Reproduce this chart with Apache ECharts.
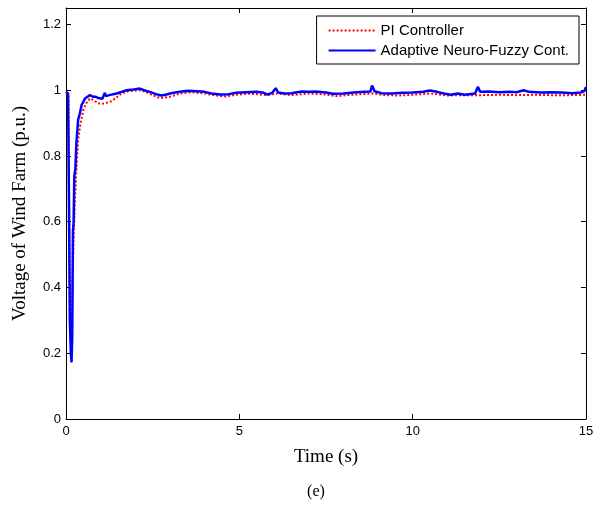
<!DOCTYPE html>
<html>
<head>
<meta charset="utf-8">
<title>Voltage of Wind Farm</title>
<script src="https://cdn.jsdelivr.net/npm/echarts@6/dist/echarts.min.js"></script>
<style>
  html, body { margin: 0; padding: 0; background: #fff; }
  #chart { width: 598px; height: 506px; }
</style>
</head>
<body>
<div id="chart"></div>
<script>
// time (s), voltage (p.u.)
var piPoints = [
  [0, 0.99], [0.07, 0.985], [0.1, 0.5], [0.12, 0.3], [0.15, 0.2], [0.17, 0.25],
  [0.19, 0.42], [0.22, 0.55], [0.26, 0.67], [0.3, 0.76], [0.35, 0.85], [0.42, 0.9],
  [0.5, 0.94], [0.58, 0.96], [0.69, 0.975], [0.8, 0.97], [0.9, 0.962], [1.0, 0.958],
  [1.12, 0.96], [1.3, 0.966], [1.42, 0.975], [1.6, 0.99], [1.8, 0.997], [2.1, 1.0],
  [2.3, 0.995], [2.5, 0.985], [2.71, 0.976], [2.85, 0.978], [3.0, 0.98], [3.3, 0.99],
  [3.6, 0.994], [4.0, 0.99], [4.3, 0.984], [4.6, 0.981], [4.9, 0.986], [5.3, 0.99],
  [5.8, 0.985], [6.1, 0.99], [6.5, 0.985], [7.0, 0.99], [7.5, 0.987], [7.8, 0.982],
  [8.1, 0.985], [8.5, 0.988], [8.85, 0.99], [9.2, 0.985], [9.6, 0.984], [10.0, 0.986],
  [10.5, 0.99], [11.0, 0.984], [11.5, 0.985], [12.0, 0.985], [12.5, 0.986], [13.0, 0.985],
  [13.5, 0.986], [14.0, 0.985], [14.5, 0.985], [15, 0.986]
];

var anfcPoints = [
  [0, 0.995], [0.06, 0.99], [0.09, 0.6], [0.11, 0.3], [0.14, 0.2], [0.16, 0.172],
  [0.18, 0.25], [0.2, 0.57], [0.22, 0.6], [0.24, 0.74], [0.27, 0.76], [0.3, 0.84],
  [0.35, 0.91], [0.4, 0.93], [0.45, 0.955], [0.5, 0.965], [0.55, 0.975], [0.62, 0.98],
  [0.69, 0.985], [0.74, 0.982], [0.79, 0.98], [0.86, 0.98], [0.93, 0.976], [1.05, 0.974],
  [1.1, 0.976], [1.12, 0.992], [1.15, 0.982], [1.25, 0.985], [1.46, 0.99], [1.6, 0.995],
  [1.75, 1.0], [1.95, 1.002], [2.13, 1.005], [2.25, 1.0], [2.42, 0.995], [2.6, 0.988],
  [2.75, 0.984], [2.9, 0.987], [3.0, 0.99], [3.15, 0.993], [3.29, 0.995], [3.5, 0.998],
  [3.8, 0.997], [4.0, 0.995], [4.2, 0.99], [4.45, 0.987], [4.7, 0.988], [4.9, 0.992],
  [5.2, 0.994], [5.5, 0.995], [5.7, 0.992], [5.8, 0.987], [5.95, 0.992], [6.05, 1.006],
  [6.12, 0.993], [6.3, 0.99], [6.5, 0.991], [6.8, 0.996], [7.0, 0.995], [7.2, 0.996],
  [7.5, 0.993], [7.7, 0.989], [8.0, 0.99], [8.3, 0.993], [8.6, 0.995], [8.78, 0.996],
  [8.83, 1.014], [8.9, 0.997], [9.1, 0.991], [9.4, 0.99], [9.7, 0.992], [10.0, 0.993],
  [10.3, 0.995], [10.5, 0.999], [10.7, 0.995], [10.9, 0.99], [11.1, 0.986], [11.3, 0.99],
  [11.5, 0.986], [11.8, 0.99], [11.88, 1.01], [11.95, 0.995], [12.2, 0.996], [12.5, 0.994],
  [12.8, 0.995], [13.0, 0.994], [13.2, 1.0], [13.35, 0.995], [13.7, 0.993], [14.0, 0.994],
  [14.3, 0.993], [14.6, 0.991], [14.85, 0.993], [14.95, 0.997], [15, 1.01]
];

var seriesNames = ['PI Controller', 'Adaptive Neuro-Fuzzy Cont.'];
var xTicks = { min: 0, max: 15, interval: 5 };
var yTicks = { min: 0, max: 1.25, interval: 0.2 };

(function(){
  'use strict';

  var sans = 'Liberation Sans, Arial, sans-serif';
  var serif = 'Liberation Serif, Times New Roman, serif';

  // matlab-ish box: ticks inside, mirrored on top / right
  function xAxis(pos, withLabels) {
    return {
      type: 'value', position: pos,
      min: xTicks.min, max: xTicks.max, interval: xTicks.interval,
      name: withLabels ? 'Time (s)' : '',
      nameLocation: 'middle', nameGap: 29,
      nameTextStyle: { fontFamily: serif, fontSize: 19, color: '#000' },
      axisLine: { show: true, onZero: false, lineStyle: { color: '#000', width: 1 } },
      axisTick: { show: true, inside: true, length: 5, lineStyle: { color: '#000' } },
      axisLabel: { show: withLabels, color: '#000', fontFamily: sans, fontSize: 13, margin: 6 },
      splitLine: { show: false }
    };
  }

  function yAxis(pos, withLabels) {
    return {
      type: 'value', position: pos,
      min: yTicks.min, max: yTicks.max, interval: yTicks.interval,
      name: withLabels ? 'Voltage of Wind Farm (p.u.)' : '',
      nameLocation: 'middle', nameGap: 36,
      nameTextStyle: { fontFamily: serif, fontSize: 19, color: '#000' },
      axisLine: { show: true, onZero: false, lineStyle: { color: '#000', width: 1 } },
      axisTick: { show: true, inside: true, length: 5, lineStyle: { color: '#000' } },
      axisLabel: {
        show: withLabels, color: '#000', fontFamily: sans, fontSize: 13, margin: 5,
        formatter: function (v) { return v > 1.21 ? '' : String(Math.round(v * 10) / 10); }
      },
      splitLine: { show: false }
    };
  }

  var chart = echarts.init(document.getElementById('chart'));

  chart.setOption({
    animation: false,
    backgroundColor: '#fff',
    grid: { left: 66, right: 12, top: 8, bottom: 87 },
    xAxis: [xAxis('bottom', true), xAxis('top', false)],
    yAxis: [yAxis('left', true), yAxis('right', false)],
    legend: {
      orient: 'vertical', right: 19, top: 16,
      backgroundColor: '#fff', borderColor: '#000', borderWidth: 1,
      padding: [7, 10, 6, 11], itemGap: 5,
      itemWidth: 47, itemHeight: 10,
      itemStyle: { opacity: 0 },
      textStyle: { fontFamily: sans, fontSize: 15, color: '#000' },
      data: seriesNames
    },
    graphic: [{
      type: 'text', x: 316, y: 492,
      style: { text: '(e)', fontFamily: serif, fontSize: 16, fill: '#000', align: 'center', verticalAlign: 'middle' }
    }],
    series: [{
      name: seriesNames[0], type: 'line', data: piPoints,
      symbol: 'none', color: '#ff0000',
      lineStyle: { color: '#ff0000', width: 2, type: [2, 2] }
    }, {
      name: seriesNames[1], type: 'line', data: anfcPoints,
      symbol: 'none', color: '#0000ff',
      lineStyle: { color: '#0000ff', width: 2.5 }
    }]
  });
})();
</script>
</body>
</html>
